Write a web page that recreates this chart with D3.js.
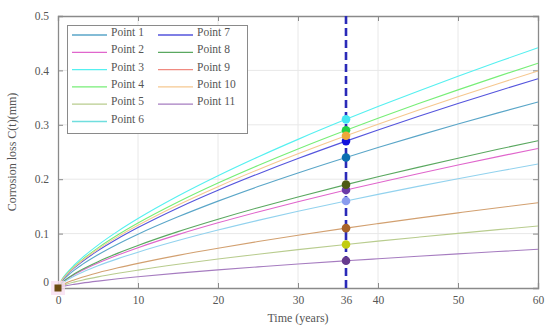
<!DOCTYPE html>
<html><head><meta charset="utf-8">
<script src="https://cdn.jsdelivr.net/npm/d3@7"></script>
<style>body{margin:0;background:#fff}svg{display:block}text{font-family:"Liberation Serif","DejaVu Serif",serif;fill:#555}</style>
</head><body><div id="chart"></div>
<script>
const times = [0, 0.5, 1, 2, 3, 5, 7.5, 10, 15, 20, 25, 30, 36, 40, 45, 50, 55, 60];
const seriesNames = ["Point 1","Point 2","Point 3","Point 4","Point 5","Point 6","Point 7","Point 8","Point 9","Point 10","Point 11"];
const p1  = [0,0.0124,0.0200,0.0324,0.0429,0.0611,0.0809,0.0988,0.1308,0.1597,0.1864,0.2115,0.24,0.2582,0.2801,0.3014,0.3219,0.3420];
const p2  = [0,0.0093,0.0150,0.0243,0.0322,0.0458,0.0607,0.0741,0.0981,0.1198,0.1398,0.1586,0.18,0.1936,0.2101,0.2260,0.2415,0.2565];
const p3  = [0,0.0160,0.0259,0.0418,0.0554,0.0789,0.1045,0.1276,0.1690,0.2063,0.2408,0.2732,0.31,0.3335,0.3618,0.3893,0.4158,0.4417];
const p4  = [0,0.0150,0.0242,0.0391,0.0518,0.0738,0.0978,0.1194,0.1581,0.1930,0.2252,0.2556,0.29,0.3120,0.3385,0.3642,0.3890,0.4132];
const p5  = [0,0.0041,0.0067,0.0108,0.0143,0.0204,0.0270,0.0329,0.0436,0.0532,0.0621,0.0705,0.08,0.0861,0.0934,0.1005,0.1073,0.1140];
const p6  = [0,0.0083,0.0133,0.0216,0.0286,0.0407,0.0540,0.0659,0.0872,0.1065,0.1243,0.1410,0.16,0.1721,0.1868,0.2009,0.2146,0.2280];
const p7  = [0,0.0139,0.0225,0.0364,0.0482,0.0687,0.0910,0.1111,0.1472,0.1797,0.2097,0.2380,0.27,0.2904,0.3151,0.3390,0.3622,0.3847];
const p8  = [0,0.0098,0.0158,0.0256,0.0340,0.0484,0.0641,0.0782,0.1036,0.1264,0.1476,0.1674,0.19,0.2044,0.2218,0.2386,0.2549,0.2707];
const p9  = [0,0.0057,0.0092,0.0148,0.0197,0.0280,0.0371,0.0453,0.0600,0.0732,0.0854,0.0969,0.11,0.1183,0.1284,0.1381,0.1476,0.1567];
const p10 = [0,0.0144,0.0234,0.0378,0.0500,0.0713,0.0944,0.1152,0.1526,0.1863,0.2175,0.2468,0.28,0.3012,0.3268,0.3516,0.3756,0.3989];
const p11 = [0,0.0026,0.0042,0.0067,0.0089,0.0127,0.0169,0.0206,0.0273,0.0333,0.0388,0.0441,0.05,0.0538,0.0584,0.0628,0.0671,0.0712];
const seriesValues = [p1,p2,p3,p4,p5,p6,p7,p8,p9,p10,p11];
const lineColors = ["#5aa6c8","#e066cc","#55f0f0","#77ee77","#b8cc8e","#92d2ee","#5555dd","#5aa860","#d2a070","#f6c890","#a67cc0"];
const legendColors = ["#5aa6c8","#e066cc","#55f0f0","#77ee77","#b8cc8e","#70dede","#5555dd","#5aa860","#f08a80","#f6c890","#a67cc0"];
const dotColors = ["#0b6fb0","#6a3aa8","#45e6f2","#22d044","#c2cc10","#8a9cee","#1010dd","#4c5a14","#a8642a","#f0a83a","#663b8e"];
const markTime = 36;
const xTicks = [0,10,20,30,36,40,50,60];
const yTicks = [0,0.1,0.2,0.3,0.4,0.5];
const yTickLabels = ["0","0.1","0.2","0.3","0.4","0.5"];
const xTitle = "Time (years)";
const yTitle = "Corrosion loss C(t)(mm)";

const W = 550, H = 327;
const m = {l:58, r:12, t:16, b:39};
const svg = d3.select("#chart").append("svg").attr("width",W).attr("height",H);
const x = d3.scaleLinear().domain([0,60]).range([m.l, W-m.r]);
const y = d3.scaleLinear().domain([0,0.5]).range([H-m.b, m.t]);

// grid
svg.append("g").selectAll("line").data(xTicks.filter(d=>d>0&&d<60&&d!==36)).join("line")
  .attr("x1",d=>x(d)).attr("x2",d=>x(d)).attr("y1",y(0)).attr("y2",y(0.5))
  .attr("stroke","#e8e8e8").attr("stroke-width",1);
svg.append("g").selectAll("line").data(yTicks.filter(d=>d>0&&d<0.5)).join("line")
  .attr("x1",x(0)).attr("x2",x(60)).attr("y1",d=>y(d)).attr("y2",d=>y(d))
  .attr("stroke","#e8e8e8").attr("stroke-width",1);

// axes box
const axisColor = "#8a8a8a";
const gx = svg.append("g").attr("transform",`translate(0,${y(0)})`)
  .call(d3.axisBottom(x).tickValues(xTicks).tickSize(-5).tickPadding(8).tickFormat(d3.format("d")));
const gy = svg.append("g").attr("transform",`translate(${x(0)},0)`)
  .call(d3.axisLeft(y).tickValues(yTicks).tickSize(-5).tickPadding(9).tickFormat((d,i)=>yTickLabels[i]));
const gx2 = svg.append("g").attr("transform",`translate(0,${y(0.5)})`)
  .call(d3.axisTop(x).tickValues(xTicks).tickSize(-5).tickFormat(""));
const gy2 = svg.append("g").attr("transform",`translate(${x(60)},0)`)
  .call(d3.axisRight(y).tickValues(yTicks).tickSize(-5).tickFormat(""));
[gx,gy,gx2,gy2].forEach(g=>{
  g.select(".domain").attr("stroke",axisColor).attr("stroke-width",1.3);
  g.selectAll(".tick line").attr("stroke",axisColor);
  g.selectAll(".tick text").style("font-family","'Liberation Serif',serif").style("font-size","11.5px").attr("fill","#555");
});
gy.selectAll(".tick").filter(d=>d===0).select("text").attr("dy","-0.2em");

// lines
const line = d3.line().x((d,i)=>x(times[i])).y(d=>y(d)).curve(d3.curveMonotoneX);
svg.append("g").selectAll("path").data(seriesValues).join("path")
  .attr("d",d=>line(d)).attr("fill","none")
  .attr("stroke",(d,i)=>lineColors[i]).attr("stroke-width",1.1);

// dashed marker line
svg.append("line").attr("x1",x(markTime)).attr("x2",x(markTime)).attr("y1",y(0.5)).attr("y2",y(0))
  .attr("stroke","#2a2ab8").attr("stroke-width",2.6).attr("stroke-dasharray","8,4");

// dots at t=36
const idx36 = times.indexOf(markTime);
svg.append("g").selectAll("circle").data(seriesValues).join("circle")
  .attr("cx",x(markTime)).attr("cy",d=>y(d[idx36])).attr("r",4.3)
  .attr("fill",(d,i)=>dotColors[i]);

// origin marker
svg.append("rect").attr("x",x(0)-7).attr("y",y(0)-7).attr("width",14).attr("height",14).attr("fill","#f8dff0").attr("opacity",0.8);
svg.append("rect").attr("x",x(0)-3.5).attr("y",y(0)-3.5).attr("width",7).attr("height",7).attr("fill","#6b4a10");

// legend
const lg = svg.append("g");
lg.append("rect").attr("x",67.5).attr("y",25.5).attr("width",180).attr("height",108)
  .attr("fill","#fff").attr("stroke","#8a8a8a").attr("stroke-width",1);
seriesNames.forEach((name,i)=>{
  const col = i<6?0:1, row = i<6?i:i-6;
  const lx = col===0?72:158, ly = 35+row*17.3;
  lg.append("line").attr("x1",lx).attr("x2",lx+35).attr("y1",ly).attr("y2",ly)
    .attr("stroke",legendColors[i]).attr("stroke-width",1.3);
  lg.append("text").attr("x",lx+39).attr("y",ly+1).attr("font-size","11.5px").text(name);
});

// titles
svg.append("text").attr("x",(x(0)+x(60))/2).attr("y",322).attr("text-anchor","middle").attr("font-size","12px").text(xTitle);
svg.append("text").attr("transform",`translate(16,${(y(0)+y(0.5))/2}) rotate(-90)`).attr("text-anchor","middle").attr("font-size","12px").text(yTitle);
</script></body></html>
